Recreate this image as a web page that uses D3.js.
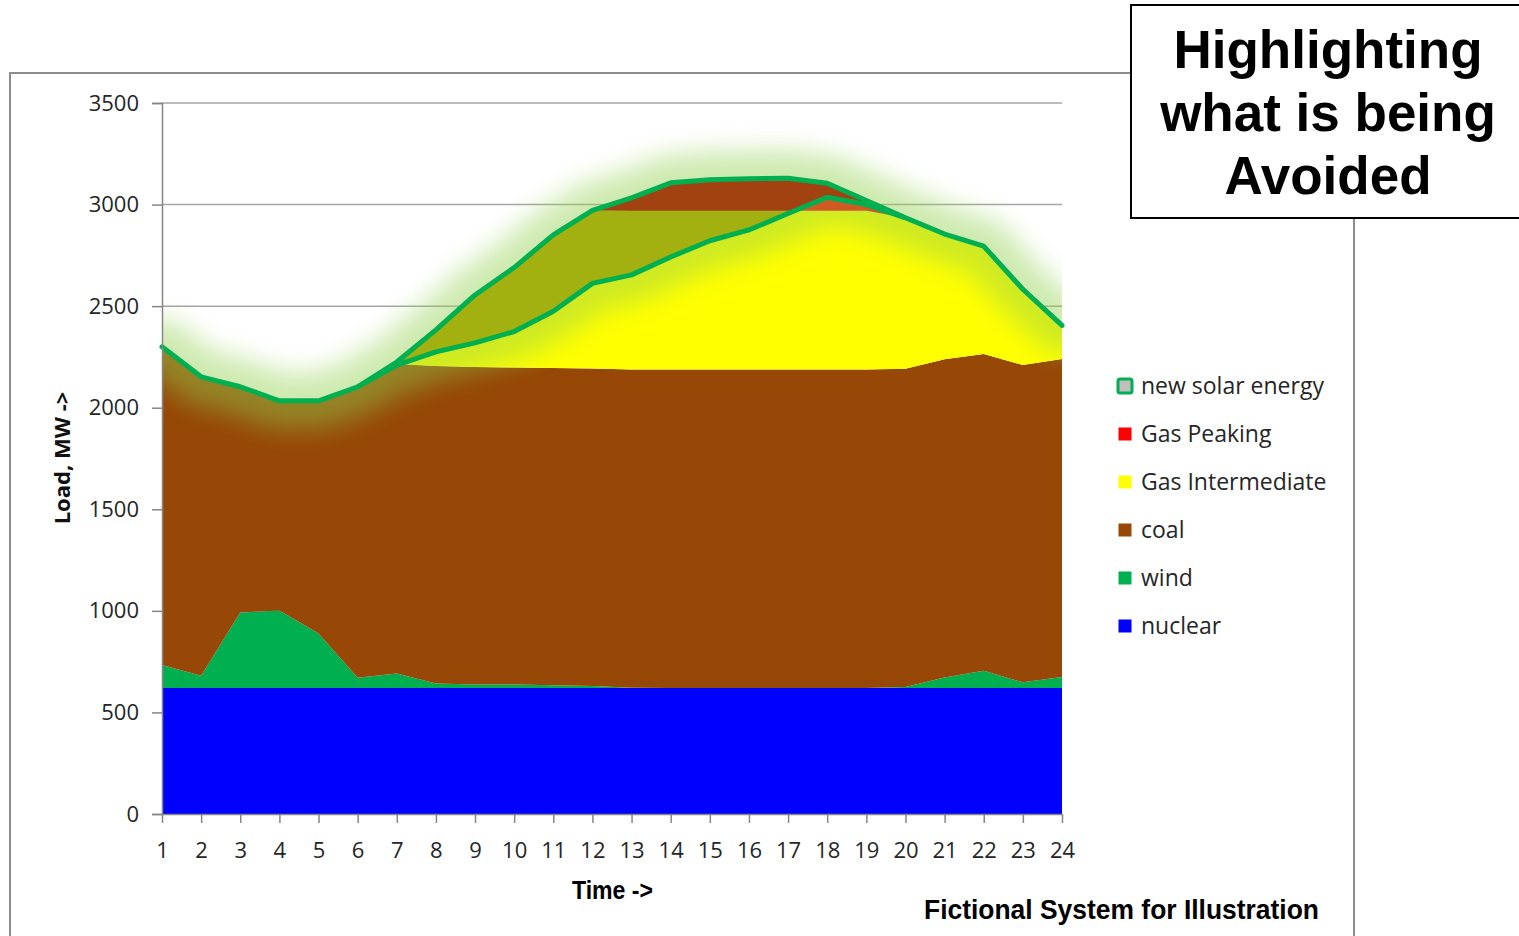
<!DOCTYPE html>
<html>
<head>
<meta charset="utf-8">
<script src="https://cdn.jsdelivr.net/npm/d3@7/dist/d3.min.js"></script>
<style>
  body { margin: 0; background: #fff; }
  text { font-family: "Open Sans", sans-serif; }
</style>
</head>
<body>
<div id="chart"></div>
<script>
// Hours of the day
const hours = [1, 2, 3, 4, 5, 6, 7, 8, 9, 10, 11, 12, 13, 14, 15, 16, 17, 18, 19, 20, 21, 22, 23, 24];

// Generation by source, MW
const nuclear = [620, 620, 620, 620, 620, 620, 620, 620, 620, 620, 620, 620, 620, 620, 620, 620, 620, 620, 620, 620, 620, 620, 620, 620];
const wind = [113, 60, 372, 382, 269, 51, 72, 23, 18, 18, 14, 10, 2, 0, 0, 0, 0, 0, 0, 5, 52, 85, 28, 55];
const coal = [1567, 1472, 1111, 1032, 1145, 1432, 1523, 1562, 1562, 1560, 1561, 1563, 1566, 1568, 1568, 1568, 1568, 1568, 1568, 1567, 1566, 1560, 1562, 1565];
const gasIntermediate = [0, 0, 0, 0, 0, 0, 10, 178, 355, 492, 656, 779, 782, 782, 782, 782, 782, 782, 782, 743, 617, 530, 373, 165];
const gasPeaking = [0, 0, 0, 0, 0, 0, 0, 0, 0, 0, 0, 0, 63, 137, 152, 157, 160, 135, 50, 0, 0, 0, 0, 0];
// New solar energy, taken off the top of the load
const newSolar = [0, 0, 0, 0, 0, 0, 15, 108, 236, 315, 376, 360, 379, 365, 300, 252, 174, 69, 20, 0, 0, 0, 0, 0];

const yTicks = [0, 500, 1000, 1500, 2000, 2500, 3000, 3500];
const legendNames = ["new solar energy", "Gas Peaking", "Gas Intermediate", "coal", "wind", "nuclear"];
const titleLines = ["Highlighting", "what is being", "Avoided"];

const keys = ["nuclear", "wind", "coal", "gasIntermediate", "gasPeaking"];
const colors = {
    nuclear: "#0000FF",
    wind: "#00B050",
    coal: "#974806",
    gasIntermediate: "#FFFF00",
    gasPeaking: "#FF0000"
};

const rows = hours.map((h, i) => ({
    hour: h,
    nuclear: nuclear[i],
    wind: wind[i],
    coal: coal[i],
    gasIntermediate: gasIntermediate[i],
    gasPeaking: gasPeaking[i],
    solar: newSolar[i]
}));

const margin = {top: 103, left: 162};
const width = 900;
const height = 711;

const svg = d3.select("#chart")
    .append("svg")
    .attr("width", 1519)
    .attr("height", 936);

const defs = svg.append("defs");

// outer chart frame
svg.append("rect")
    .attr("x", 10)
    .attr("y", 73)
    .attr("width", 1344)
    .attr("height", 900)
    .attr("fill", "none")
    .attr("stroke", "#8c8c8c")
    .attr("stroke-width", 2);

const g = svg.append("g")
    .attr("transform", `translate(${margin.left},${margin.top})`);

const x = d3.scaleLinear().domain([1, 24]).range([0, width]);
const y = d3.scaleLinear().domain([0, 3500]).range([height, 0]);

// gridlines
g.append("g")
    .selectAll("line")
    .data(yTicks.slice(1))
    .enter().append("line")
    .attr("x1", 0)
    .attr("x2", width)
    .attr("y1", d => y(d))
    .attr("y2", d => y(d))
    .attr("stroke", "#a6a6a6")
    .attr("stroke-width", 1.5);

// stacked areas
const stacked = d3.stack().keys(keys)(rows);

const area = d3.area()
    .x(d => x(d.data.hour))
    .y0(d => y(d[0]))
    .y1(d => y(d[1]));

g.append("g")
    .selectAll("path")
    .data(stacked)
    .enter().append("path")
    .attr("d", area)
    .attr("fill", d => colors[d.key]);

// the new solar band sits on the top of the load
const load = stacked[stacked.length - 1].map(d => d[1]);
const solarArea = d3.area()
    .x(d => x(d.hour))
    .y0((d, i) => y(load[i] - d.solar))
    .y1((d, i) => y(load[i]));

defs.append("clipPath")
    .attr("id", "plotClip")
    .append("rect")
    .attr("width", width)
    .attr("height", height);

const glowFilter = defs.append("filter")
    .attr("id", "glow")
    .attr("filterUnits", "userSpaceOnUse")
    .attr("x", -200).attr("y", -200)
    .attr("width", width + 400).attr("height", height + 400);
glowFilter.append("feGaussianBlur").attr("stdDeviation", 13);

const mask = defs.append("mask")
    .attr("id", "outsideSolar")
    .attr("maskUnits", "userSpaceOnUse")
    .attr("x", -100).attr("y", -100)
    .attr("width", width + 200).attr("height", height + 200);
mask.append("rect")
    .attr("x", -100).attr("y", -100)
    .attr("width", width + 200).attr("height", height + 200)
    .attr("fill", "#fff");
mask.append("path")
    .attr("d", solarArea(rows))
    .attr("fill", "#000");

// soft glow around the solar band
g.append("g")
    .attr("clip-path", "url(#plotClip)")
    .append("g")
    .attr("mask", "url(#outsideSolar)")
    .append("path")
    .attr("d", solarArea(rows))
    .attr("fill", "none")
    .attr("stroke", "#92D050")
    .attr("stroke-width", 56)
    .attr("stroke-linejoin", "round")
    .attr("opacity", 0.45)
    .attr("filter", "url(#glow)");

g.append("path")
    .attr("d", solarArea(rows))
    .attr("fill", "rgb(91,116,28)")
    .attr("fill-opacity", 0.57)
    .attr("stroke", "#00B050")
    .attr("stroke-width", 5)
    .attr("stroke-linejoin", "round");

// y-axis
const yAxis = g.append("g")
    .call(d3.axisLeft(y).tickValues(yTicks).tickFormat(d3.format("d")).tickSize(10).tickPadding(13));
yAxis.select(".domain").attr("stroke", "#868686").attr("stroke-width", 1.5);
yAxis.selectAll(".tick line").attr("stroke", "#868686").attr("stroke-width", 1.5);
yAxis.selectAll(".tick text")
    .attr("font-family", "Open Sans")
    .attr("font-size", 22)
    .attr("fill", "#262626");

// x-axis
const xAxis = g.append("g")
    .attr("transform", `translate(0,${height})`)
    .call(d3.axisBottom(x).tickValues(hours).tickFormat(d3.format("d")).tickSize(9).tickSizeOuter(0).tickPadding(19));
xAxis.select(".domain").attr("stroke", "#868686").attr("stroke-width", 1.5);
xAxis.selectAll(".tick line").attr("stroke", "#868686").attr("stroke-width", 1.5);
xAxis.selectAll(".tick text")
    .attr("font-family", "Open Sans")
    .attr("font-size", 22)
    .attr("fill", "#262626");

// axis titles
svg.append("text")
    .attr("x", 572)
    .attr("y", 899)
    .attr("textLength", 81)
    .attr("lengthAdjust", "spacingAndGlyphs")
    .style("font-family", "'Liberation Sans', Arial, sans-serif")
    .style("font-weight", "bold")
    .style("font-size", "26px")
    .text("Time ->");

svg.append("text")
    .attr("transform", "rotate(-90)")
    .attr("x", -458)
    .attr("y", 70)
    .attr("text-anchor", "middle")
    .style("font-weight", "bold")
    .style("font-size", "22px")
    .attr("fill", "#111")
    .text("Load, MW ->");

svg.append("text")
    .attr("x", 924)
    .attr("y", 919)
    .attr("textLength", 395)
    .attr("lengthAdjust", "spacingAndGlyphs")
    .style("font-family", "'Liberation Sans', Arial, sans-serif")
    .style("font-weight", "bold")
    .style("font-size", "28px")
    .text("Fictional System for Illustration");

// legend
const legendColors = ["#BFBFBF", colors.gasPeaking, colors.gasIntermediate, colors.coal, colors.wind, colors.nuclear];
const legend = svg.selectAll(".legend")
    .data(legendNames)
    .enter().append("g")
    .attr("class", "legend")
    .attr("transform", (d, i) => `translate(1125,${386 + i * 48})`);

legend.append("rect")
    .attr("x", (d, i) => i === 0 ? -7 : -6.5)
    .attr("y", (d, i) => i === 0 ? -7 : -6.5)
    .attr("width", (d, i) => i === 0 ? 14 : 13)
    .attr("height", (d, i) => i === 0 ? 14 : 13)
    .attr("rx", (d, i) => i === 0 ? 2 : 0)
    .attr("fill", (d, i) => legendColors[i])
    .attr("stroke", (d, i) => i === 0 ? "#00B050" : "none")
    .attr("stroke-width", 3);

legend.append("text")
    .attr("x", 16)
    .attr("dy", "0.35em")
    .style("font-size", "23px")
    .attr("fill", "#262626")
    .text(d => d);

// title box
svg.append("rect")
    .attr("x", 1131)
    .attr("y", 5)
    .attr("width", 400)
    .attr("height", 213)
    .attr("fill", "#fff")
    .attr("stroke", "#000")
    .attr("stroke-width", 2);

svg.append("g")
    .selectAll("text")
    .data(titleLines)
    .enter().append("text")
    .attr("x", 1328)
    .attr("y", (d, i) => 68 + i * 63)
    .attr("text-anchor", "middle")
    .style("font-family", "'Liberation Sans', Arial, sans-serif")
    .style("font-weight", "bold")
    .style("font-size", "53px")
    .text(d => d);
</script>
</body>
</html>
